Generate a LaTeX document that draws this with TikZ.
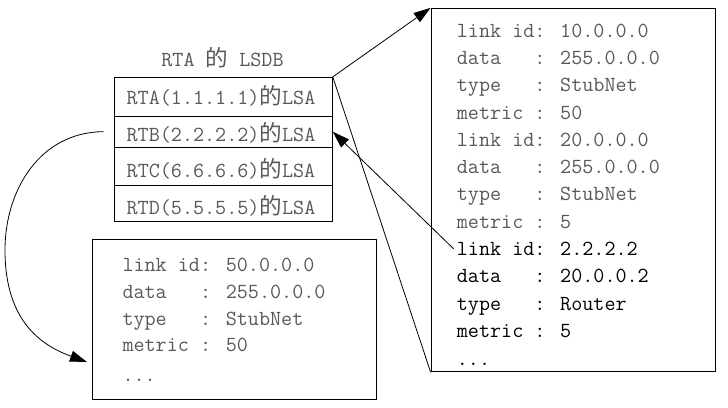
\documentclass[tikz,border=0pt]{standalone}
\usepackage{fontspec}
\newfontfamily\cjkf{Noto Sans CJK SC}
\usetikzlibrary{arrows.meta}
\newcommand\cjkde{{\cjkf\fontsize{22.6}{27}\selectfont 的}}
\begin{document}
\begin{tikzpicture}[x=1pt,y=-1pt,
  txt/.style={font=\ttfamily\fontsize{21.5}{27}\selectfont, inner sep=0pt, text=black!65},
  txtb/.style={txt, text=black},
  box/.style={draw, line width=0.8pt, inner sep=0pt},
  conn/.style={line width=0.8pt},
  tip/.style={-{Triangle[length=17pt,width=11pt]}}]
\useasboundingbox (0,0) rectangle (728,407);
\fill[white] (0,0) rectangle (728,407);

% LSDB table
\node[txt, anchor=base] (title) at (222.5,66.7) {RTA \cjkde{} LSDB};
\node[box, minimum width=218.3pt, minimum height=38.7pt] (rta) at (223.2,96.65) {};
\node[box, minimum width=218.3pt, minimum height=31.3pt] (rtb) at (223.2,131.65) {};
\node[box, minimum width=218.3pt, minimum height=37.7pt] (rtc) at (223.2,166.15) {};
\node[box, minimum width=218.3pt, minimum height=36.7pt] (rtd) at (223.2,203.35) {};
\node[txt, anchor=base] (ta) at (221,104.3) {RTA(1.1.1.1)\cjkde LSA};
\node[txt, anchor=base] (tb) at (221,141.7) {RTB(2.2.2.2)\cjkde LSA};
\node[txt, anchor=base] (tc) at (221,177.7) {RTC(6.6.6.6)\cjkde LSA};
\node[txt, anchor=base] (td) at (221,214.3) {RTD(5.5.5.5)\cjkde LSA};

% right box
\node[box, minimum width=284pt, minimum height=363.5pt] (rbox) at (573,190) {};
\node[txt, anchor=base west] (l1) at (456.7,37.3) {link id: 10.0.0.0};
\node[txt, anchor=base west] (l2) at (456.7,64.5) {data~~~: 255.0.0.0};
\node[txt, anchor=base west] (l3) at (456.7,91.8) {type~~~: StubNet};
\node[txt, anchor=base west] (l4) at (456.7,119) {metric : 50};
\node[txt, anchor=base west] (l5) at (456.7,146.2) {link id: 20.0.0.0};
\node[txt, anchor=base west] (l6) at (456.7,173.4) {data~~~: 255.0.0.0};
\node[txt, anchor=base west] (l7) at (456.7,200.6) {type~~~: StubNet};
\node[txt, anchor=base west] (l8) at (456.7,228) {metric : 5};
\node[txtb, anchor=base west] (l9) at (456.7,255.5) {link id: 2.2.2.2};
\node[txtb, anchor=base west] (l10) at (456.7,282.7) {data~~~: 20.0.0.2};
\node[txtb, anchor=base west] (l11) at (456.7,310) {type~~~: Router};
\node[txtb, anchor=base west] (l12) at (456.7,337) {metric : 5};
\node[txtb, anchor=base west] (l13) at (456.7,365) {...};

% bottom box
\node[box, minimum width=284pt, minimum height=160pt] (bbox) at (234.7,319) {};
\node[txt, anchor=base west] (b1) at (122.3,271.7) {link id: 50.0.0.0};
\node[txt, anchor=base west] (b2) at (122.3,298.3) {data~~~: 255.0.0.0};
\node[txt, anchor=base west] (b3) at (122.3,325) {type~~~: StubNet};
\node[txt, anchor=base west] (b4) at (122.3,351.7) {metric : 50};
\node[txt, anchor=base west] (b5) at (122.3,381) {...};

% connectors
\draw[conn, tip] (rta.north east) -- (rbox.north west);
\draw[conn] (rta.north east) -- (rbox.south west);
\draw[conn, tip] ([xshift=-3pt]l9.west) -- (rtb.east);
\coordinate (cs) at ([xshift=-10pt]rtb.west);
\coordinate (ce) at (87,362);
\draw[conn, tip] (cs) .. controls (40,132) and (5,190) .. (5,250)
  .. controls (5,320) and (40,345) .. (ce);
\end{tikzpicture}
\end{document}
